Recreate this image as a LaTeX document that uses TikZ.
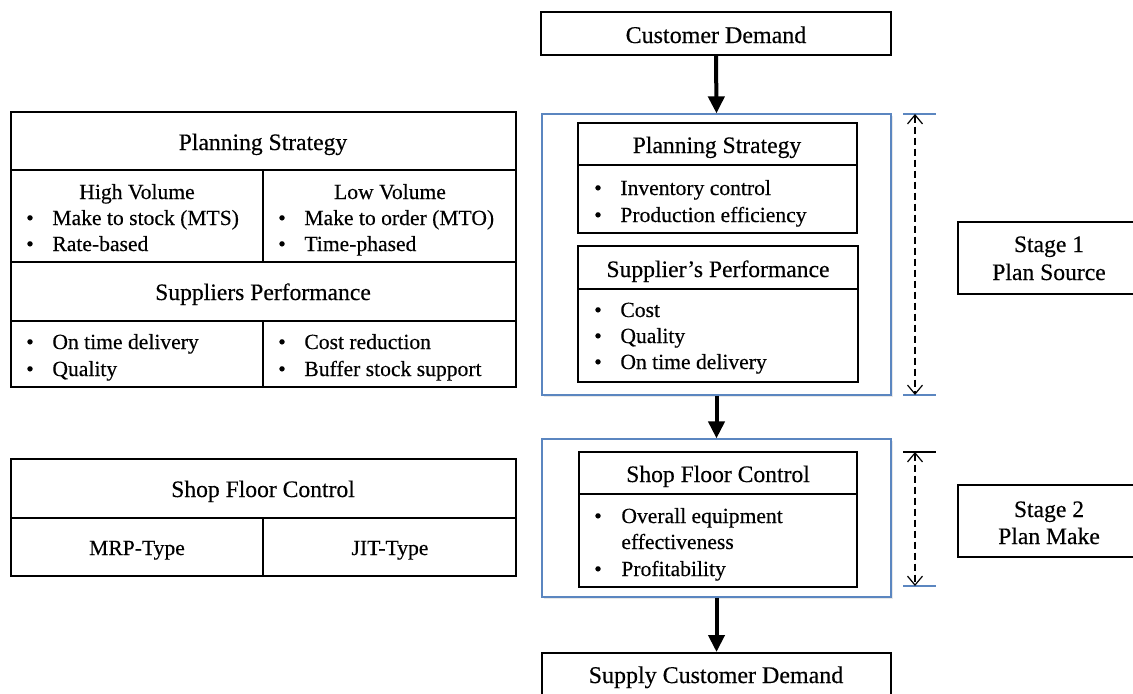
\documentclass[tikz,border=0pt]{standalone}
\usepackage{fontspec}
\setmainfont{Liberation Serif}[FakeBold=0.35]
\usetikzlibrary{arrows.meta,fit,shadows}
\definecolor{frameblue}{HTML}{5B86C0}
\begin{document}
\begin{tikzpicture}[x=0.5pt,y=-0.5pt,
  cell/.style={draw=black,line width=0.9pt,inner sep=0pt},
  box/.style={draw=black,line width=1pt,inner sep=0pt},
  stagebox/.style={draw=frameblue,line width=0.6pt,inner sep=0pt,fill=white,
    drop shadow={opacity=0.18,shadow xshift=0.8pt,shadow yshift=-0.8pt}},
  head/.style={font=\fontsize{11.8}{14}\selectfont,inner sep=0pt,anchor=base},
  txt/.style={font=\fontsize{10.8}{13}\selectfont,inner sep=0pt,anchor=base},
  ltxt/.style={txt,anchor=base west},
  flow/.style={line width=2pt,-{Triangle[width=8pt,length=8.5pt]}},
  dimline/.style={line width=0.6pt,dash pattern=on 3.5pt off 2pt,
    {Straight Barb[width=7.5pt,length=4.5pt]}-{Straight Barb[width=7.5pt,length=4.5pt]}},
  tickb/.style={draw=frameblue,line width=0.7pt},
  tickk/.style={draw=black,line width=0.7pt}]

\clip (0,0) rectangle (1133,693);
\fill[white] (0,0) rectangle (1133,693);

% ---------------- left tables ----------------
\node[cell,fit={(11,112)(516,170)}] (lt1) {};
\node[cell,fit={(11,170)(263,262)}] (lt2a) {};
\node[cell,fit={(263,170)(516,262)}] (lt2b) {};
\node[cell,fit={(11,262)(516,321)}] (lt3) {};
\node[cell,fit={(11,321)(263,387)}] (lt4a) {};
\node[cell,fit={(263,321)(516,387)}] (lt4b) {};

\node[head] (lps) at (263,150) {Planning Strategy};
\node[txt] (lhv) at (137,199) {High Volume};
\node[txt] (lb1) at (30,225) {•}; \node[ltxt] (lt1a) at (52,225) {Make to stock (MTS)};
\node[txt] (lb2) at (30,251) {•}; \node[ltxt] (lt1b) at (52,251) {Rate-based};
\node[txt] (llv) at (390,199) {Low Volume};
\node[txt] (lb3) at (282,225) {•}; \node[ltxt] (lt1c) at (304,225) {Make to order (MTO)};
\node[txt] (lb4) at (282,251) {•}; \node[ltxt] (lt1d) at (304,251) {Time-phased};
\node[head] (lsp) at (263,300) {Suppliers Performance};
\node[txt] (lb5) at (30,349) {•}; \node[ltxt] (lt1e) at (52,349) {On time delivery};
\node[txt] (lb6) at (30,376) {•}; \node[ltxt] (lt1f) at (52,376) {Quality};
\node[txt] (lb7) at (282,349) {•}; \node[ltxt] (lt1g) at (304,349) {Cost reduction};
\node[txt] (lb8) at (282,376) {•}; \node[ltxt] (lt1h) at (304,376) {Buffer stock support};

\node[cell,fit={(11,459)(516,518)}] (sf1) {};
\node[cell,fit={(11,518)(263,576)}] (sf2a) {};
\node[cell,fit={(263,518)(516,576)}] (sf2b) {};
\node[head] (lsfc) at (263,497) {Shop Floor Control};
\node[txt] (lmrp) at (137,555) {MRP-Type};
\node[txt] (ljit) at (390,555) {JIT-Type};

% ---------------- centre flow ----------------
\node[box,fit={(541,12)(891,55)}] (cd) {};
\node[head,font=\fontsize{12}{14}\selectfont] (cdt) at (716,43) {Customer Demand};

\node[stagebox,fit={(542,114)(891,395)}] (s1) {};
\node[box,fit={(578,123)(857,165)}] (ps) {};
\node[box,fit={(578,165)(857,233)}] (psb) {};
\node[head] (pst) at (717,153) {Planning Strategy};
\node[txt] (mb1) at (598,195) {•}; \node[ltxt] (ml1) at (620,195) {Inventory control};
\node[txt] (mb2) at (598,222) {•}; \node[ltxt] (ml2) at (620,222) {Production efficiency};

\node[box,fit={(578,246)(858,289)}] (sp) {};
\node[box,fit={(578,289)(858,382)}] (spb) {};
\node[head] (spt) at (718,277) {Supplier’s Performance};
\node[txt] (mb3) at (598,317) {•}; \node[ltxt] (ml3) at (620,317) {Cost};
\node[txt] (mb4) at (598,343) {•}; \node[ltxt] (ml4) at (620,343) {Quality};
\node[txt] (mb5) at (598,369) {•}; \node[ltxt] (ml5) at (620,369) {On time delivery};

\node[stagebox,fit={(542,439)(891,597)}] (s2) {};
\node[box,fit={(579,452)(857,494)}] (sf) {};
\node[box,fit={(579,494)(857,587)}] (sfb) {};
\node[head] (sft) at (718,482) {Shop Floor Control};
\node[txt] (mb6) at (598,523) {•}; \node[ltxt] (ml6) at (621,523) {Overall equipment};
\node[ltxt] (ml7) at (621,549) {effectiveness};
\node[txt] (mb8) at (598,576) {•}; \node[ltxt] (ml8) at (621,576) {Profitability};

\node[box,fit={(542,653)(891,712)}] (sup) {};
\node[head,font=\fontsize{12}{14}\selectfont] (supt) at (716,683) {Supply Customer Demand};

\draw[flow] (cd.south) -- (s1.north);
\draw[flow] (s1.south) -- (s2.north);
\draw[flow] (s2.south) -- (sup.north);

% ---------------- dimension marks ----------------
\coordinate (d1t) at (915,114); \coordinate (d1b) at (915,395);
\coordinate (k1a) at (903,114); \coordinate (k1b) at (936,114);
\coordinate (k2a) at (903,395); \coordinate (k2b) at (936,395);
\draw[tickb] (k1a) -- (k1b);
\draw[tickb] (k2a) -- (k2b);
\draw[dimline] (d1t) -- (d1b);

\coordinate (d2t) at (915,452); \coordinate (d2b) at (915,586);
\coordinate (k3a) at (903,452); \coordinate (k3b) at (936,452);
\coordinate (k4a) at (903,586); \coordinate (k4b) at (936,586);
\draw[tickk] (k3a) -- (k3b);
\draw[tickb] (k4a) -- (k4b);
\draw[dimline] (d2t) -- (d2b);

% ---------------- stage labels ----------------
\node[box,fit={(958,222)(1140,294)}] (st1) {};
\node[head] (st1a) at (1049,252) {Stage 1};
\node[head] (st1b) at (1049,280) {Plan Source};
\node[box,fit={(958,485)(1140,557)}] (st2) {};
\node[head] (st2a) at (1049,517) {Stage 2};
\node[head] (st2b) at (1049,544) {Plan Make};
\end{tikzpicture}
\end{document}
